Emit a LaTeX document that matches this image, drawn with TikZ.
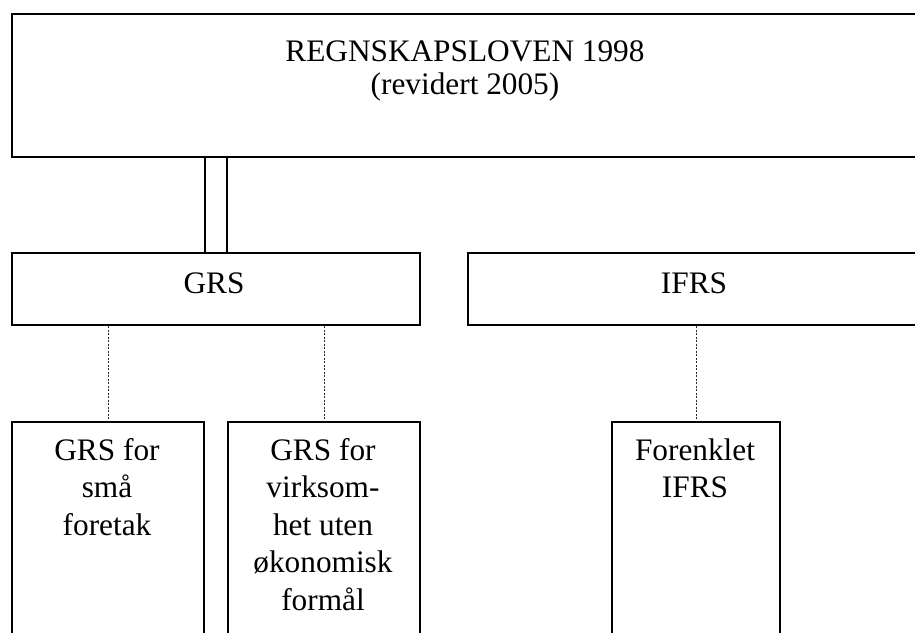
\documentclass[tikz,border=0pt]{standalone}
\usepackage{fontspec}
\setmainfont{Liberation Serif}
\usetikzlibrary{calc}
\tikzset{
  box/.style={draw=black, line width=2pt, fill=white, inner sep=0pt, anchor=north west},
  % anchor=base puts the last line of a label on the given point
  lbl/.style={font=\fontsize{31.3}{37.5}\selectfont, align=center, inner sep=0pt, anchor=base},
  tie/.style={draw=black, line width=1.6pt},
  dotline/.style={draw=black!85, line width=0.9pt, dash pattern=on 2pt off 1.5pt},
}
\begin{document}
\begin{tikzpicture}[x=1pt, y=-1pt]
\useasboundingbox (0,0) rectangle (915,632);
\clip (0,0) rectangle (915,632);

% boxes
\node[box, minimum width=906pt, minimum height=143pt] (top) at (11,13) {};
\node[box, minimum width=408pt, minimum height=72pt] (grs) at (11,252) {};
\node[box, minimum width=454pt, minimum height=72pt] (ifrs) at (467,252) {};
\node[box, minimum width=192pt, minimum height=240pt] (small) at (11,421) {};
\node[box, minimum width=192pt, minimum height=240pt] (nonprofit) at (227,421) {};
\node[box, minimum width=168pt, minimum height=240pt] (simple) at (611,421) {};

% labels
\node[lbl] (toptext) at (465,94) {REGNSKAPSLOVEN 1998\\[-4.5pt](revidert 2005)};
\node[lbl] (grstext) at (214,293) {GRS};
\node[lbl] (ifrstext) at (694,293) {IFRS};
\node[lbl] (smalltext) at (107,535) {GRS for\\små\\foretak};
\node[lbl] (nonprofittext) at (323,610) {GRS for\\virksom-\\het uten\\økonomisk\\formål};
\node[lbl] (simpletext) at (695,497.5) {Forenklet\\IFRS};

% double ties from the act down to GRS and IFRS
\draw[tie] (small.north east |- top.south) -- (small.north east |- grs.north);
\draw[tie] (nonprofit.north west |- top.south) -- (nonprofit.north west |- grs.north);
\draw[tie] ($(simple.north)+(-12,0)$ |- top.south) -- ($(simple.north)+(-12,0)$ |- ifrs.north);
\draw[tie] ($(simple.north)+(12,0)$ |- top.south) -- ($(simple.north)+(12,0)$ |- ifrs.north);

% dotted links to the simplified variants
\draw[dotline] (small.north |- grs.south) -- (small.north);
\draw[dotline] (nonprofit.north |- grs.south) -- (nonprofit.north);
\draw[dotline] (simple.north |- ifrs.south) -- (simple.north);
\end{tikzpicture}
\end{document}
